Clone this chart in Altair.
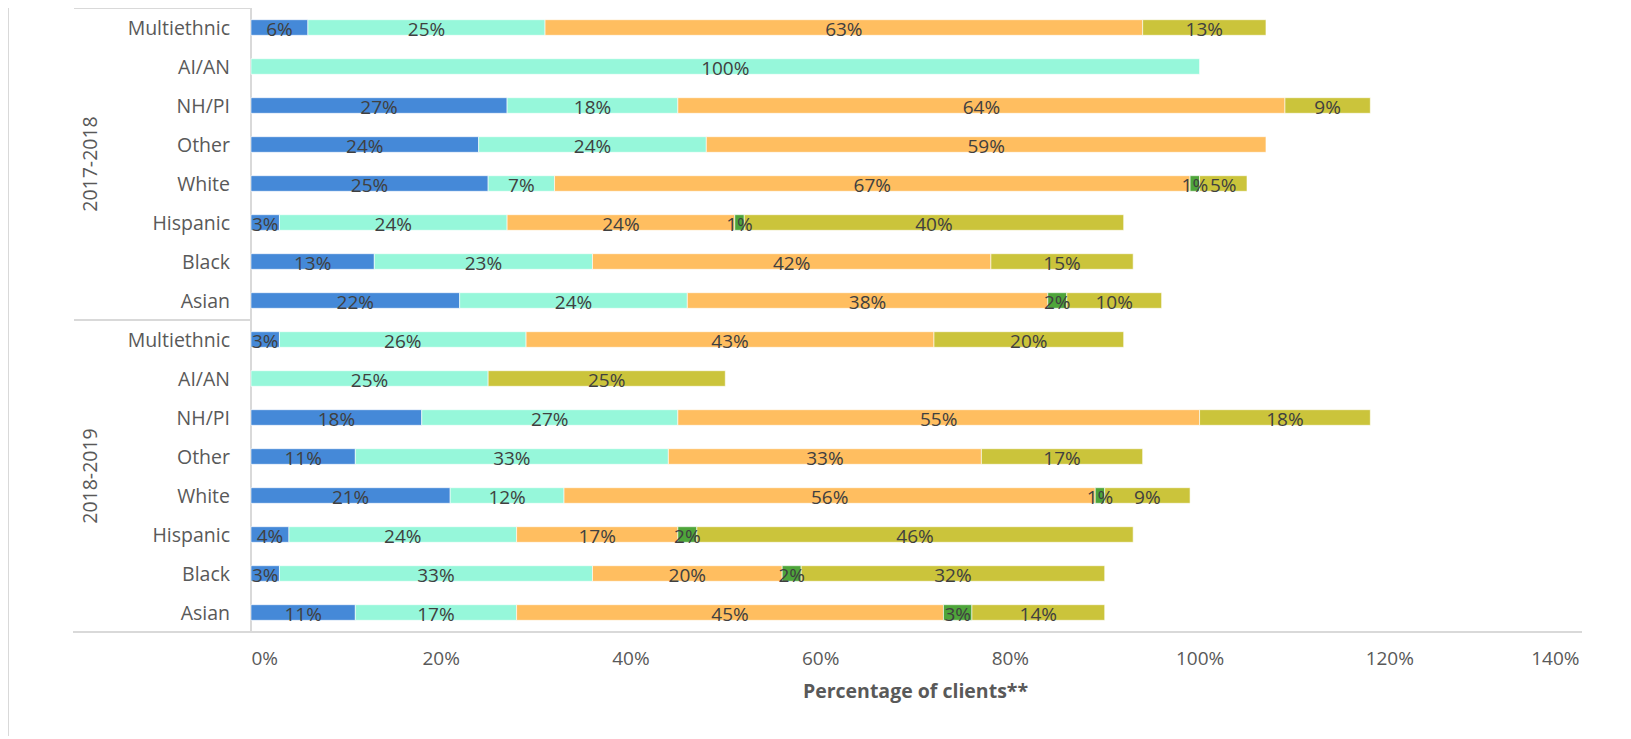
import altair as alt
import pandas as pd

# ---- data ----
groups = ["2017-2018", "2018-2019"]
categories = ["Multiethnic", "AI/AN", "NH/PI", "Other", "White", "Hispanic", "Black", "Asian"]
series_names = ["Series 1", "Series 2", "Series 3", "Series 4", "Series 5"]

s1_1718 = [6, 0, 27, 24, 25, 3, 13, 22]
s2_1718 = [25, 100, 18, 24, 7, 24, 23, 24]
s3_1718 = [63, 0, 64, 59, 67, 24, 42, 38]
s4_1718 = [0, 0, 0, 0, 1, 1, 0, 2]
s5_1718 = [13, 0, 9, 0, 5, 40, 15, 10]

s1_1819 = [3, 0, 18, 11, 21, 4, 3, 11]
s2_1819 = [26, 25, 27, 33, 12, 24, 33, 17]
s3_1819 = [43, 0, 55, 33, 56, 17, 20, 45]
s4_1819 = [0, 0, 0, 0, 1, 2, 2, 3]
s5_1819 = [20, 25, 18, 17, 9, 46, 32, 14]

x_ticks = [0, 0.2, 0.4, 0.6, 0.8, 1.0, 1.2, 1.4]
colors = ["#4589D8", "#96F7DA", "#FFBE60", "#4EA53A", "#CBC43B"]

values = {
    "2017-2018": [s1_1718, s2_1718, s3_1718, s4_1718, s5_1718],
    "2018-2019": [s1_1819, s2_1819, s3_1819, s4_1819, s5_1819],
}

rows = []
order = []
for g in groups:
    for i, c in enumerate(categories):
        key = f"{g}|{c}"
        order.append(key)
        start = 0.0
        for k, s in enumerate(series_names):
            v = values[g][k][i] / 100.0
            if v > 0:
                rows.append({"row": key, "group": g, "category": c, "series": s,
                             "start": start, "end": start + v, "mid": start + v / 2,
                             "label": f"{round(v * 100)}%"})
            start += v
df = pd.DataFrame(rows)
rows_df = pd.DataFrame({"row": order, "category": [k.split("|")[1] for k in order]})

W, H = 1328, 624
step = H / len(order)
FONT = "Open Sans"
AXIS_GRAY = "#d9d9d9"
TEXT_GRAY = "#595959"

y_enc = alt.Y("row:N", sort=order, axis=None,
              scale=alt.Scale(paddingInner=0.6, paddingOuter=0.3))

bars = alt.Chart(df).mark_bar(stroke="white", strokeWidth=0.6).encode(
    x=alt.X("start:Q", scale=alt.Scale(domain=[0, 1.4], nice=False),
            axis=alt.Axis(values=x_ticks, format=".0%", domain=False, ticks=False, grid=False,
                          labelFont=FONT, labelFontSize=19, labelColor=TEXT_GRAY, labelPadding=17,
                          title="Percentage of clients**", titleFont=FONT, titleFontSize=19.5,
                          titleFontWeight="bold", titleColor=TEXT_GRAY, titlePadding=14)),
    x2="end:Q",
    y=y_enc,
    color=alt.Color("series:N", scale=alt.Scale(domain=series_names, range=colors), legend=None),
)

labels = alt.Chart(df).mark_text(font=FONT, fontSize=19, color="#404040", baseline="middle", dy=2).encode(
    x="mid:Q", y=y_enc, text="label:N"
)

cat_labels = alt.Chart(rows_df).mark_text(font=FONT, fontSize=19.5, color=TEXT_GRAY, align="right",
                                          baseline="middle", dy=1).encode(
    x=alt.value(-21), y=y_enc, text="category:N"
)

grp_df = pd.DataFrame({"group": groups, "ypix": [4 * step, 12 * step]})
grp_labels = alt.Chart(grp_df).mark_text(font=FONT, fontSize=19.5, color=TEXT_GRAY, angle=270,
                                         align="center", baseline="middle").encode(
    x=alt.value(-160), y=alt.Y("ypix:Q", scale=None), text="group:N"
)

line_df = pd.DataFrame({
    "x1": [-177, -177, -178, 0, -243],
    "x2": [0, 0, W + 3, 0, -243],
    "y1": [0, 8 * step, H, 0, 0],
    "y2": [0, 8 * step, H, H, H + 104],
})
lines = alt.Chart(line_df).mark_rule(color=AXIS_GRAY, strokeWidth=2).encode(
    x=alt.X("x1:Q", scale=None), x2="x2:Q",
    y=alt.Y("y1:Q", scale=None), y2="y2:Q",
)

chart = alt.layer(lines, bars, labels, cat_labels, grp_labels).properties(
    width=W, height=H,
    autosize=alt.AutoSizeParams(type="none"),
    padding={"left": 243, "top": 0, "right": 44, "bottom": 107},
).configure_view(stroke=None)

chart.save("out.html", embed_options={"renderer": "svg", "actions": False})
